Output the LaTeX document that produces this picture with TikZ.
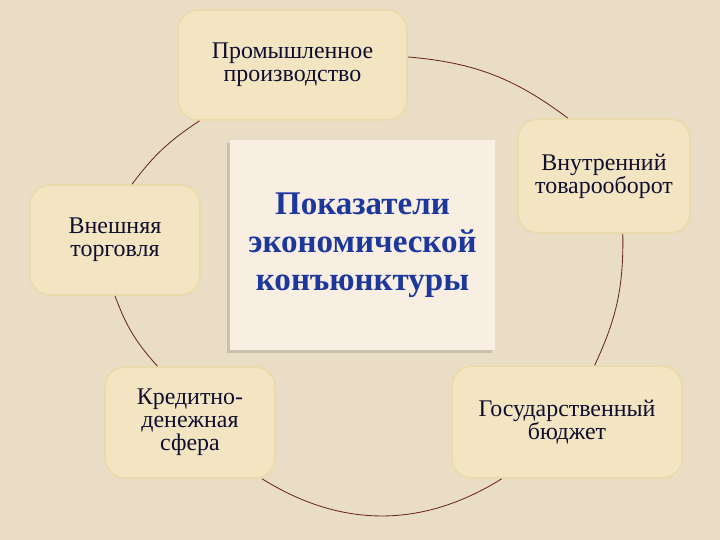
\documentclass[tikz,border=0pt]{standalone}
\usepackage{fontspec}
\setmainfont{LiberationSerif}[Extension=.ttf, UprightFont=*-Regular, BoldFont=*-Bold]
\usetikzlibrary{shadows}

\definecolor{pagebg}{RGB}{234,221,198}
\definecolor{boxfill}{RGB}{243,229,193}
\definecolor{boxline}{RGB}{234,218,172}
\definecolor{ringcol}{RGB}{105,40,28}
\definecolor{inkcol}{RGB}{14,14,48}
\definecolor{maincol}{RGB}{28,56,156}
\definecolor{mainfill}{RGB}{248,239,226}

\begin{document}
\begin{tikzpicture}[
	factor/.style={draw=boxline, line width=1.2pt, fill=boxfill, rounded corners=0.5cm,
		align=center, text=inkcol, font=\fontsize{17}{16.5}\selectfont, inner sep=0pt},
	core/.style={fill=mainfill, align=center, text=maincol, inner sep=0pt,
		font=\fontsize{23.5}{27}\selectfont\bfseries,
		drop shadow={shadow xshift=-0.08cm, shadow yshift=-0.08cm, opacity=0.25, fill=black!60}},
	ring/.style={draw=ringcol, line width=0.6pt}
	]
	
	% page
	\fill[pagebg] (0,0) rectangle (18,-13.5);
	\useasboundingbox (0,0) rectangle (18,-13.5);
	
	% centre
	\node[core, minimum width=6.625cm, minimum height=5.25cm] (indicators) at (9.0625,-6.125)
		{Показатели\\экономической\\конъюнктуры};
	
	% factors round the ring
	\node[factor, minimum width=5.725cm, minimum height=2.75cm] (industry) at (7.3125,-1.625)
		{Промышленное\\производство};
	\node[factor, minimum width=4.3cm, minimum height=2.85cm] (trade) at (15.1,-4.4)
		{Внутренний\\товарооборот};
	\node[factor, minimum width=5.75cm, minimum height=2.8cm] (budget) at (14.175,-10.55)
		{Государственный\\бюджет};
	\node[factor, minimum width=4.25cm, minimum height=2.775cm] (credit) at (4.75,-10.5625)
		{Кредитно-\\денежная\\сфера};
	\node[factor, minimum width=4.25cm, minimum height=2.75cm] (foreign) at (2.875,-6.0)
		{Внешняя\\торговля};
	
	% arcs of the cycle
	\draw[ring] (industry.4) to[bend left=16] (trade.122);
	\draw[ring] (trade.-72) to[bend left=13] (budget.64);
	\draw[ring] (budget.221) to[bend left=32] (credit.-38);
	\draw[ring] (credit.120) to[bend left=11] (foreign.south);
	\draw[ring] (foreign.73) to[bend left=10] (industry.211);
	
\end{tikzpicture}
\end{document}
